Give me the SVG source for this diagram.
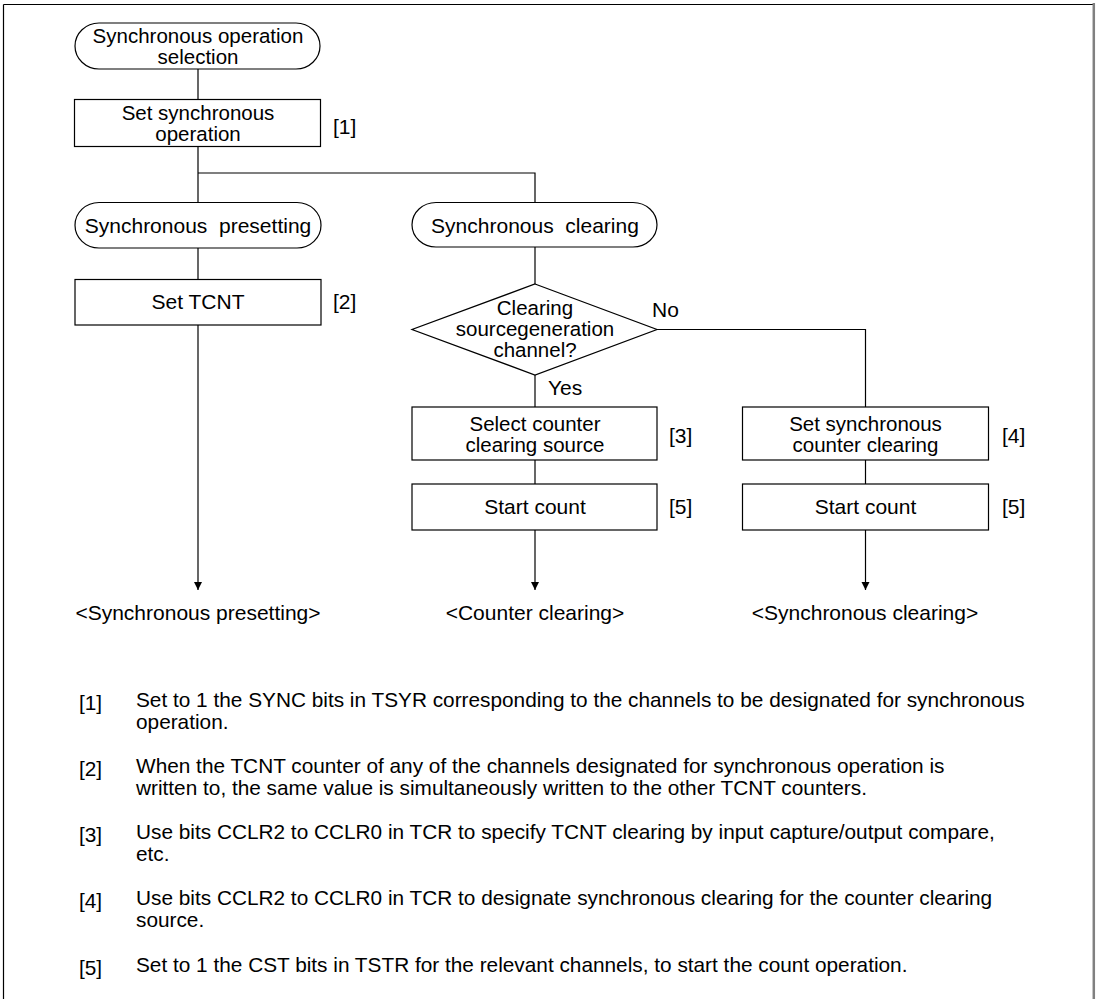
<svg xmlns="http://www.w3.org/2000/svg" width="1098" height="999" viewBox="0 0 1098 999">
<style>
text{font-family:"Liberation Sans",Arial,sans-serif;font-size:21px;fill:#000}
.c{text-anchor:middle}
.m{font-size:20.5px}
.n{font-size:20.8px}
.s{fill:#fff;stroke:#000;stroke-width:1.2}
.l{fill:none;stroke:#000;stroke-width:1.2}
</style>
<defs>
<marker id="ah" viewBox="0 0 8 12" refX="8" refY="6" markerWidth="8" markerHeight="12" markerUnits="userSpaceOnUse" orient="auto">
<path d="M0,2 L8,6 L0,10 Z" fill="#000"/>
</marker>
</defs>
<rect width="1098" height="999" fill="#fff"/>
<g id="frame">
<line x1="3.5" y1="4.5" x2="1093" y2="4.5" stroke="#000" stroke-width="1.2"/>
<line x1="3.5" y1="4.5" x2="3.5" y2="999" stroke="#000" stroke-width="1.2"/>
<line x1="1093.8" y1="3" x2="1093.8" y2="999" stroke="#808080" stroke-width="2.5"/>
</g>
<g id="connectors">
<path class="l" d="M198,69 V99"/>
<path class="l" d="M198,147 V202"/>
<path class="l" d="M198,173 H535 V202"/>
<path class="l" d="M198,248 V279"/>
<path class="l" d="M198,325 V590" marker-end="url(#ah)"/>
<path class="l" d="M535,247 V284"/>
<path class="l" d="M535,375 V407"/>
<path class="l" d="M657,329.5 H865.5 V407"/>
<path class="l" d="M535,460 V484"/>
<path class="l" d="M535,530 V590" marker-end="url(#ah)"/>
<path class="l" d="M865.5,460 V484"/>
<path class="l" d="M865.5,530 V590" marker-end="url(#ah)"/>
<text x="652" y="317">No</text>
<text x="548" y="395">Yes</text>
</g>
<g id="start">
<rect class="s" x="75" y="23" width="245" height="46" rx="24" ry="23"/>
<text class="c m" x="198" y="43">Synchronous operation</text>
<text class="c m" x="198" y="64">selection</text>
</g>
<g id="set-sync">
<rect class="s" x="74.5" y="99.5" width="246" height="47"/>
<text class="c m" x="198" y="120">Set synchronous</text>
<text class="c m" x="198" y="141">operation</text>
<text x="333" y="134">[1]</text>
</g>
<g id="sync-preset">
<rect class="s" x="75" y="202.5" width="246" height="45.5" rx="24" ry="22.75"/>
<text class="c" x="198" y="233" xml:space="preserve">Synchronous  presetting</text>
</g>
<g id="set-tcnt">
<rect class="s" x="75" y="279.5" width="246" height="45.5"/>
<text class="c" x="198" y="309">Set TCNT</text>
<text x="333" y="309">[2]</text>
</g>
<g id="sync-clear">
<rect class="s" x="412" y="202.5" width="245" height="44.5" rx="24" ry="22.25"/>
<text class="c" x="535" y="233" xml:space="preserve">Synchronous  clearing</text>
</g>
<g id="decision">
<polygon class="s" points="535,284 657,329.5 535,375 412,329.5"/>
<text class="c m" x="535" y="315">Clearing</text>
<text class="c m" x="535" y="336">sourcegeneration</text>
<text class="c m" x="535" y="357">channel?</text>
</g>
<g id="select-source">
<rect class="s" x="412" y="407" width="245" height="53"/>
<text class="c m" x="535" y="431">Select counter</text>
<text class="c m" x="535" y="452">clearing source</text>
<text x="669" y="443">[3]</text>
</g>
<g id="start-count-1">
<rect class="s" x="412" y="484" width="245" height="46"/>
<text class="c" x="535" y="514">Start count</text>
<text x="669" y="514">[5]</text>
</g>
<g id="set-sync-clear">
<rect class="s" x="742.5" y="407" width="246" height="53"/>
<text class="c m" x="865.5" y="431">Set synchronous</text>
<text class="c m" x="865.5" y="452">counter clearing</text>
<text x="1002" y="443">[4]</text>
</g>
<g id="start-count-2">
<rect class="s" x="742.5" y="484" width="246" height="46"/>
<text class="c" x="865.5" y="514">Start count</text>
<text x="1002" y="514">[5]</text>
</g>
<g id="end-preset"><text class="c" x="198" y="620">&lt;Synchronous presetting&gt;</text></g>
<g id="end-counter"><text class="c" x="535" y="620">&lt;Counter clearing&gt;</text></g>
<g id="end-sync"><text class="c" x="865" y="620">&lt;Synchronous clearing&gt;</text></g>
<g id="notes">
<text class="n" x="79" y="710">[1]</text>
<text class="n" x="136" y="707">Set to 1 the SYNC bits in TSYR corresponding to the channels to be designated for synchronous</text>
<text class="n" x="136" y="729">operation.</text>
<text class="n" x="79" y="776">[2]</text>
<text class="n" x="136" y="773">When the TCNT counter of any of the channels designated for synchronous operation is</text>
<text class="n" x="136" y="795">written to, the same value is simultaneously written to the other TCNT counters.</text>
<text class="n" x="79" y="842">[3]</text>
<text class="n" x="136" y="839">Use bits CCLR2 to CCLR0 in TCR to specify TCNT clearing by input capture/output compare,</text>
<text class="n" x="136" y="861">etc.</text>
<text class="n" x="79" y="908">[4]</text>
<text class="n" x="136" y="905">Use bits CCLR2 to CCLR0 in TCR to designate synchronous clearing for the counter clearing</text>
<text class="n" x="136" y="927">source.</text>
<text class="n" x="79" y="975">[5]</text>
<text class="n" x="136" y="972">Set to 1 the CST bits in TSTR for the relevant channels, to start the count operation.</text>
</g>
</svg>
